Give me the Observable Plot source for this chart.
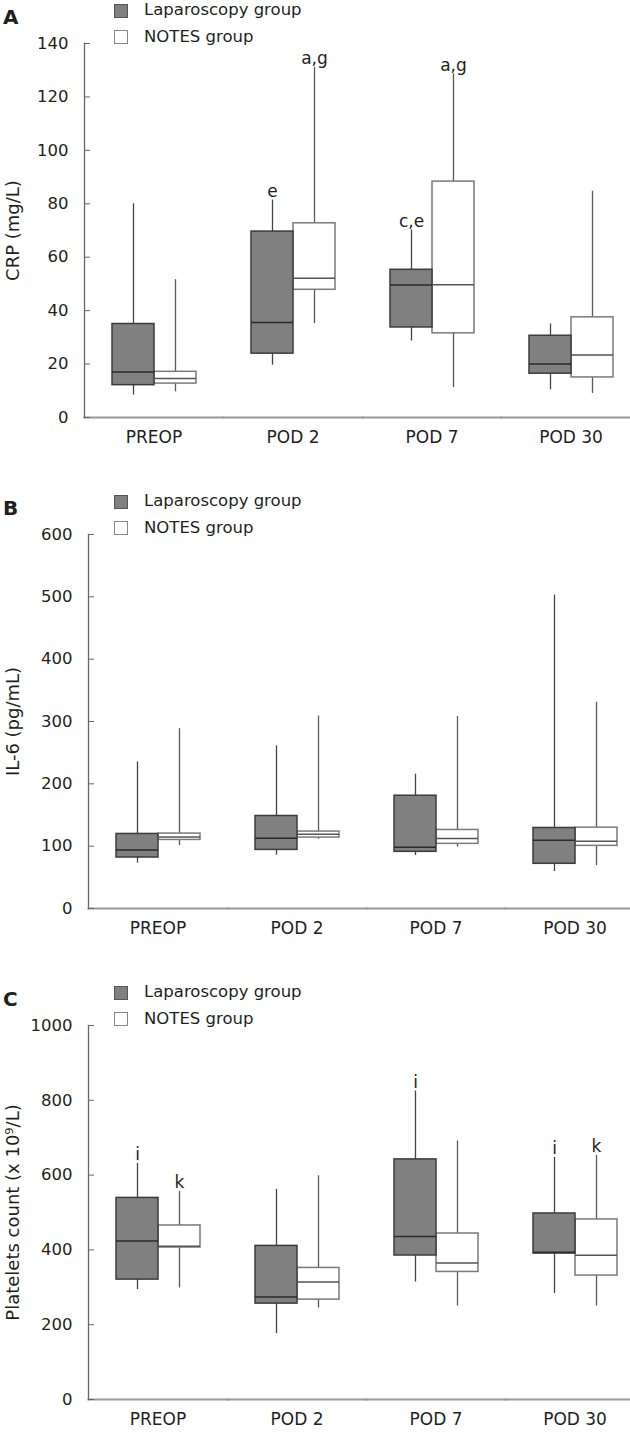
<!DOCTYPE html>
<html><head><meta charset="utf-8">
<script src="https://cdn.jsdelivr.net/npm/d3@7"></script>
<script src="https://cdn.jsdelivr.net/npm/@observablehq/plot@0.6"></script>
<style>
html,body{margin:0;padding:0;background:#fff;overflow:hidden;}
#root{width:630px;}
.panel{position:relative;width:630px;}
.panel svg{display:block;}
.letter{position:absolute;left:3px;top:7px;font:bold 20px/1 "DejaVu Sans";color:#231f20;}
.lg{position:absolute;left:144px;font:16.5px/1 "DejaVu Sans";color:#231f20;white-space:nowrap;}
.sw{position:absolute;left:114px;width:14px;height:14px;box-sizing:border-box;}
</style></head><body><div id="root"></div>
<script>
const categories = ["PREOP", "POD 2", "POD 7", "POD 30"];
const groups = ["Laparoscopy group", "NOTES group"];
// five-number summaries per category: [min, q1, median, q3, max]
const crpLaparoscopy = [[8.4, 12.1, 17.0, 35.0, 80.0], [19.6, 23.9, 35.6, 69.6, 81.4], [28.6, 33.7, 49.6, 55.3, 70.2], [10.4, 16.4, 20.0, 30.6, 35.0]];
const crpNotes = [[9.6, 12.7, 14.6, 17.1, 51.6], [35.2, 47.8, 52.1, 72.7, 131.1], [11.2, 31.5, 49.7, 88.3, 128.7], [9.0, 15.0, 23.4, 37.5, 84.7]];
const il6Laparoscopy = [[72.8, 81.8, 94, 119.6, 235], [85.6, 94, 112.7, 148.4, 260.8], [85, 90.9, 98.4, 180.9, 215.5], [59.4, 71.7, 109.6, 129.2, 503]];
const il6Notes = [[101, 110, 114.9, 120.2, 288.5], [111, 113.8, 119.2, 123.4, 308.7], [98.4, 103.7, 112.2, 126, 308.1], [69, 100.5, 108, 129.7, 331]];
const pltLaparoscopy = [[293.8, 320.6, 424, 539, 631.4], [176, 256.4, 274, 410.7, 561.7], [314.3, 385, 435.8, 642, 825], [283.1, 390.2, 393.8, 497.4, 647.5]];
const pltNotes = [[298.2, 406.4, 410, 465.3, 556.4], [244.6, 267, 314.3, 351.8, 598.2], [250, 341, 365.2, 443.8, 691], [250, 331.4, 385.7, 481.4, 652.8]];
const crpTicks = [0, 20, 40, 60, 80, 100, 120, 140];
const il6Ticks = [0, 100, 200, 300, 400, 500, 600];
const pltTicks = [0, 200, 400, 600, 800, 1000];
const crpLetters = [["POD 2", "Laparoscopy group", "e"], ["POD 2", "NOTES group", "a,g"], ["POD 7", "Laparoscopy group", "c,e"], ["POD 7", "NOTES group", "a,g"]];
const il6Letters = [];
const pltLetters = [["PREOP", "Laparoscopy group", "i"], ["PREOP", "NOTES group", "k"], ["POD 7", "Laparoscopy group", "i"], ["POD 30", "Laparoscopy group", "i"], ["POD 30", "NOTES group", "k"]];

function rows(lap, notes) {
  const out = [];
  categories.forEach((c, i) => {
    [[groups[0], lap[i]], [groups[1], notes[i]]].forEach(([g, s]) =>
      out.push({category: c, group: g, min: s[0], q1: s[1], median: s[2], q3: s[3], max: s[4]}));
  });
  return out;
}

function panel({letter, lap, notes, ticks, label, letters, left, height, marginBottom}) {
  const data = rows(lap, notes);
  const lapRows = data.filter(d => d.group === groups[0]);
  const notesRows = data.filter(d => d.group === groups[1]);
  const ann = letters.map(([c, g, t]) => ({category: c, group: g, text: t,
    y: data.find(d => d.category === c && d.group === g).max}));
  const step = 139;
  const svg = Plot.plot({
    width: 630, height, marginTop: 43, marginBottom, marginLeft: left, marginRight: 0,
    style: {fontFamily: "DejaVu Sans", fontSize: "16.5px", color: "#231f20", overflow: "hidden", background: "#fff"},
    fx: {domain: categories, range: [left, left + 4 * step], paddingInner: 0, paddingOuter: 0, label: null},
    x: {domain: groups, paddingInner: 0, paddingOuter: 0.635, axis: null},
    y: {domain: [0, ticks[ticks.length - 1]]},
    marks: [
      Plot.frame({anchor: "bottom", stroke: "#999", strokeWidth: 2}),
      Plot.frame({anchor: "left", facetAnchor: "left", stroke: "#666", strokeWidth: 1.3}),
      Plot.axisY({ticks, tickSize: -6, tickPadding: 22, stroke: "#666", tickFormat: d => String(d), label: null}),
      Plot.axisY({ticks: [], label, labelAnchor: "center", labelArrow: "none", labelOffset: left - 6, fontSize: 18}),
      Plot.axisFx({anchor: "bottom", tickSize: 0, tickPadding: 13.5, label: null, fontSize: 17}),
      Plot.ruleX(data, {fx: "category", x: "group", y1: "min", y2: "max",
        stroke: d => d.group === groups[0] ? "#444" : "#5a5a5a", strokeWidth: 1.3}),
      Plot.barY(notesRows, {fx: "category", x: "group", y1: "q1", y2: "q3", fill: "#fff", stroke: "#7a7a7a", strokeWidth: 1.5}),
      Plot.barY(lapRows, {fx: "category", x: "group", y1: "q1", y2: "q3", fill: "#808080", stroke: "#3c3c3c", strokeWidth: 1.5}),
      Plot.tickY(data, {fx: "category", x: "group", y: "median",
        stroke: d => d.group === groups[0] ? "#2a2a2a" : "#555", strokeWidth: 1.5}),
      Plot.text(ann, {fx: "category", x: "group", y: "y", text: "text", lineAnchor: "bottom", dy: -3, fontSize: 17, fill: "#231f20"})
    ]
  });
  const div = document.createElement("div");
  div.className = "panel";
  div.appendChild(svg);
  div.insertAdjacentHTML("beforeend",
    `<div class="letter">${letter}</div>` +
    `<div class="sw" style="top:4px;background:#808080;border:1px solid #555"></div>` +
    `<div class="lg" style="top:2px">${groups[0]}</div>` +
    `<div class="sw" style="top:30px;background:#fff;border:1px solid #888"></div>` +
    `<div class="lg" style="top:29px">${groups[1]}</div>`);
  document.getElementById("root").appendChild(div);
}

panel({letter: "A", lap: crpLaparoscopy, notes: crpNotes, ticks: crpTicks, label: "CRP (mg/L)", letters: crpLetters, left: 84, height: 491, marginBottom: 74});
panel({letter: "B", lap: il6Laparoscopy, notes: il6Notes, ticks: il6Ticks, label: "IL-6 (pg/mL)", letters: il6Letters, left: 88, height: 491, marginBottom: 74});
panel({letter: "C", lap: pltLaparoscopy, notes: pltNotes, ticks: pltTicks, label: "Platelets count (x 10⁹/L)", letters: pltLetters, left: 88, height: 451, marginBottom: 34});
</script></body></html>
